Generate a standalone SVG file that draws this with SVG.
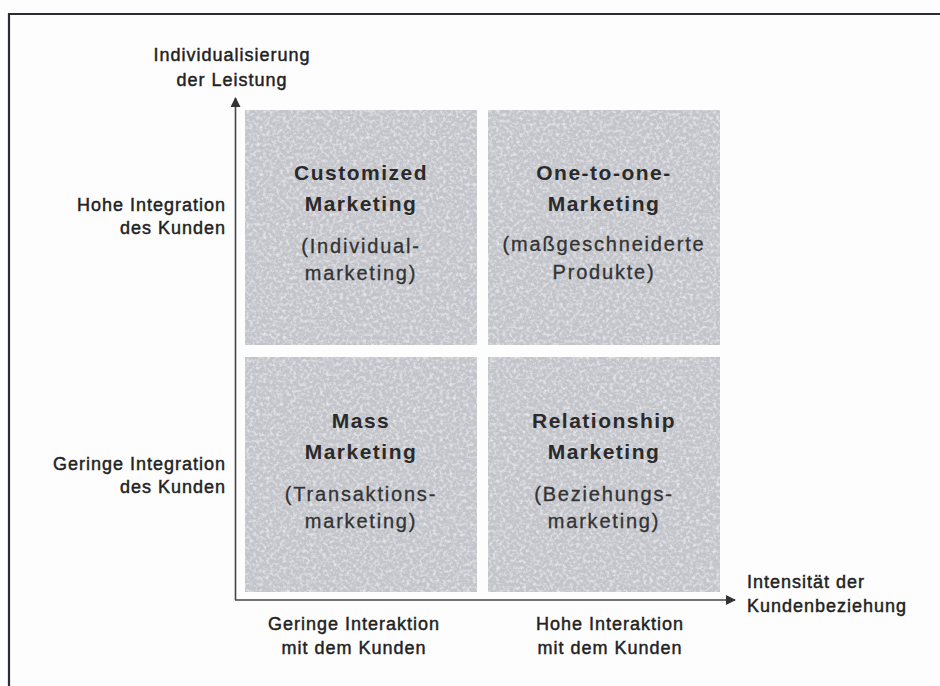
<svg xmlns="http://www.w3.org/2000/svg" width="940" height="686" viewBox="0 0 940 686">
  <style>
    .lbl { font-family: "Liberation Sans", Arial, sans-serif; font-size: 18px; letter-spacing: 1px; fill: #222; stroke: #222; stroke-width: 0.45; }
    .title { font-family: "Liberation Sans", Arial, sans-serif; font-size: 21px; font-weight: bold; letter-spacing: 1.5px; fill: #2a2a2a; text-anchor: middle; }
    .sub { font-family: "Liberation Sans", Arial, sans-serif; font-size: 20px; letter-spacing: 1.8px; fill: #333; stroke: #333; stroke-width: 0.3; text-anchor: middle; }
    .quad { fill: #c2c4ca; filter: url(#grain); }
    .axis { stroke: #444; stroke-width: 1.6; fill: none; }
    .frame { stroke: #2b2d33; stroke-width: 2.2; fill: none; }
  </style>
  <defs>
    <!-- mottled print texture for the quadrant fields -->
    <filter id="grain" x="0" y="0" width="100%" height="100%">
      <feTurbulence type="fractalNoise" baseFrequency="0.3" numOctaves="3" seed="7" result="noise"/>
      <feColorMatrix in="noise" type="matrix" values="0 0 0 0 0.82  0 0 0 0 0.83  0 0 0 0 0.85  2.2 0 0 0 -0.95" result="light"/>
      <feComposite in="light" in2="SourceAlpha" operator="in" result="lightIn"/>
      <feMerge>
        <feMergeNode in="SourceGraphic"/>
        <feMergeNode in="lightIn"/>
      </feMerge>
    </filter>
    <marker id="arrow" viewBox="0 0 10 10" refX="9" refY="5" markerWidth="10" markerHeight="10" markerUnits="userSpaceOnUse" orient="auto">
      <path d="M0,0 L10,5 L0,10 Z" fill="#333"/>
    </marker>
  </defs>

  <rect width="940" height="686" fill="#fdfdfd"/>

  <!-- outer frame (open to the right and bottom) -->
  <path class="frame" d="M9,686 V14 H940"/>

  <!-- axes -->
  <g id="connectors">
    <path class="axis" d="M235.5,600 V98" marker-end="url(#arrow)"/>
    <path class="axis" d="M235,600 H735" marker-end="url(#arrow)"/>
  </g>

  <!-- axis labels -->
  <g id="y-axis-label">
    <text class="lbl" x="232" y="61" text-anchor="middle">Individualisierung</text>
    <text class="lbl" x="232" y="86" text-anchor="middle">der Leistung</text>
  </g>
  <g id="x-axis-label">
    <text class="lbl" x="747" y="588">Intensität der</text>
    <text class="lbl" x="747" y="612">Kundenbeziehung</text>
  </g>
  <g id="row-high">
    <text class="lbl" x="226" y="211" text-anchor="end">Hohe Integration</text>
    <text class="lbl" x="226" y="234" text-anchor="end">des Kunden</text>
  </g>
  <g id="row-low">
    <text class="lbl" x="226" y="470" text-anchor="end">Geringe Integration</text>
    <text class="lbl" x="226" y="493" text-anchor="end">des Kunden</text>
  </g>
  <g id="col-low">
    <text class="lbl" x="354" y="630" text-anchor="middle">Geringe Interaktion</text>
    <text class="lbl" x="354" y="654" text-anchor="middle">mit dem Kunden</text>
  </g>
  <g id="col-high">
    <text class="lbl" x="610" y="630" text-anchor="middle">Hohe Interaktion</text>
    <text class="lbl" x="610" y="654" text-anchor="middle">mit dem Kunden</text>
  </g>

  <!-- quadrants -->
  <g id="customized-marketing">
    <rect class="quad" x="245" y="110" width="232" height="235"/>
    <text class="title" x="361" y="180">Customized</text>
    <text class="title" x="361" y="211">Marketing</text>
    <text class="sub" x="361" y="253">(Individual-</text>
    <text class="sub" x="361" y="280">marketing)</text>
  </g>
  <g id="one-to-one-marketing">
    <rect class="quad" x="488" y="110" width="232" height="235"/>
    <text class="title" x="604" y="180">One-to-one-</text>
    <text class="title" x="604" y="211">Marketing</text>
    <text class="sub" x="604" y="251">(maßgeschneiderte</text>
    <text class="sub" x="604" y="279">Produkte)</text>
  </g>
  <g id="mass-marketing">
    <rect class="quad" x="245" y="357" width="232" height="235"/>
    <text class="title" x="361" y="428">Mass</text>
    <text class="title" x="361" y="459">Marketing</text>
    <text class="sub" x="361" y="501">(Transaktions-</text>
    <text class="sub" x="361" y="528">marketing)</text>
  </g>
  <g id="relationship-marketing">
    <rect class="quad" x="488" y="357" width="232" height="235"/>
    <text class="title" x="604" y="428">Relationship</text>
    <text class="title" x="604" y="459">Marketing</text>
    <text class="sub" x="604" y="501">(Beziehungs-</text>
    <text class="sub" x="604" y="528">marketing)</text>
  </g>
</svg>
